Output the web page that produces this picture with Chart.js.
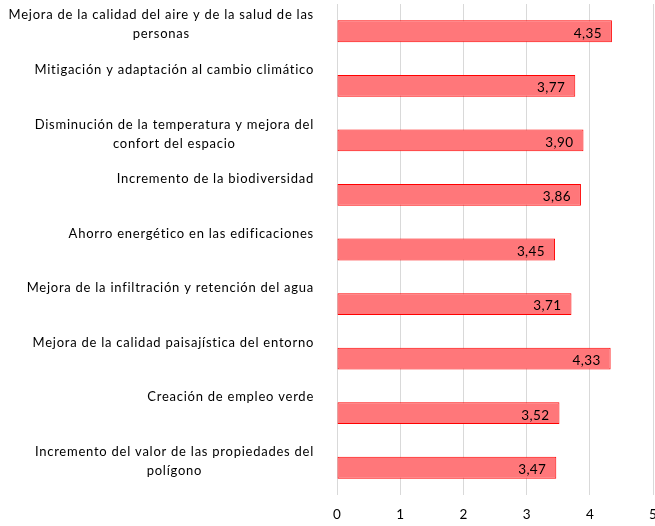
<!DOCTYPE html>
<html>
<head>
<meta charset="utf-8">
<script src="https://cdn.jsdelivr.net/npm/chart.js@4/dist/chart.umd.min.js"></script>
<style>
  html, body { margin: 0; padding: 0; background: #fff; }
  #wrap { width: 655px; height: 526px; position: relative; }
</style>
</head>
<body>
<div id="wrap"><canvas id="c"></canvas></div>
<script>
const categories = [
  ["Mejora de la calidad del aire y de la salud de las", "personas"],
  ["Mitigación y adaptación al cambio climático"],
  ["Disminución de la temperatura y mejora del", "confort del espacio"],
  ["Incremento de la biodiversidad"],
  ["Ahorro energético en las edificaciones"],
  ["Mejora de la infiltración y retención del agua"],
  ["Mejora de la calidad paisajística del entorno"],
  ["Creación de empleo verde"],
  ["Incremento del valor de las propiedades del", "polígono"]
];
const values = [4.35, 3.77, 3.90, 3.86, 3.45, 3.71, 4.33, 3.52, 3.47];
const xTicks = [0, 1, 2, 3, 4, 5];

const FONT = "Lato, 'Liberation Sans', sans-serif";

const labelPlugin = {
  id: 'customLabels',
  afterDatasetsDraw(chart) {
    const ctx = chart.ctx;
    const yScale = chart.scales.y;
    const meta = chart.getDatasetMeta(0);
    ctx.save();
    ctx.font = "13px " + FONT;
    ctx.fillStyle = '#000';
    ctx.textBaseline = 'middle';
    ctx.textAlign = 'left';
    try { ctx.letterSpacing = '0.75px'; } catch (e) {}
    const rightEdge = 314;
    chart.data.labels.forEach((lab, i) => {
      const lines = Array.isArray(lab) ? lab : [lab];
      const yc = yScale.getPixelForValue(i);
      const widths = lines.map(l => ctx.measureText(l).width);
      const w = Math.max(...widths);
      const cx = rightEdge - w / 2;
      lines.forEach((l, j) => {
        ctx.fillText(l, cx - widths[j] / 2, yc - 16 + j * 19);
      });
    });
    try { ctx.letterSpacing = '0.4px'; } catch (e) {}
    ctx.font = "13.5px " + FONT;
    meta.data.forEach((bar, i) => {
      const v = chart.data.datasets[0].data[i];
      const txt = v.toFixed(2).replace('.', ',');
      const w = ctx.measureText(txt).width;
      ctx.fillText(txt, bar.x - 10 - w, bar.y + 2);
    });
    ctx.restore();
  }
};

new Chart(document.getElementById('c'), {
  type: 'bar',
  data: {
    labels: categories,
    datasets: [{
      data: values,
      backgroundColor: '#FF777A',
      borderColor: '#FF0000',
      borderWidth: 1,
      borderSkipped: false,
      barPercentage: 0.4,
      categoryPercentage: 1
    }]
  },
  options: {
    indexAxis: 'y',
    responsive: true,
    maintainAspectRatio: false,
    animation: false,
    layout: { padding: { left: 0, right: 2, top: 4, bottom: 3 } },
    plugins: { legend: { display: false }, tooltip: { enabled: false } },
    scales: {
      y: {
        type: 'category',
        offset: true,
        grid: { display: false },
        border: { display: false },
        ticks: { display: false },
        afterFit(scale) { scale.width = 337; }
      },
      x: {
        min: 0,
        max: 5,
        afterBuildTicks(scale) { scale.ticks = xTicks.map(v => ({ value: v })); },
        grid: { color: '#d9d9d9', drawTicks: false, lineWidth: 1 },
        border: { display: false },
        ticks: {
          padding: 12,
          color: '#000',
          font: { size: 13.5, family: FONT },
          maxRotation: 0
        },
        afterFit(scale) { scale.paddingRight = 0; scale.paddingLeft = 0; scale.height = 28; }
      }
    }
  },
  plugins: [labelPlugin]
});
</script>
</body>
</html>
